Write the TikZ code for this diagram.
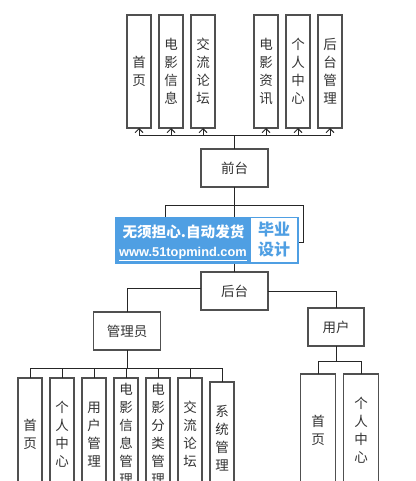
\documentclass[tikz,border=0pt]{standalone}
\usepackage{fontspec}
\setmainfont{Noto Sans CJK SC}
\newfontfamily\urlfont{Liberation Sans}
\usepackage{tikz}
\usetikzlibrary{arrows.meta,positioning}
\definecolor{linegray}{HTML}{505050}
\definecolor{markblue}{HTML}{4F9FE3}

\begin{document}
\begin{tikzpicture}[
    x=1pt,y=-1pt,
    node distance=8pt and 8pt,
    box/.style={draw=linegray,line width=1.3pt,fill=white,inner sep=0pt,outer sep=0pt,align=center,
      text=black!80,font=\fontsize{13.5}{18}\selectfont},
    tallbox/.style={box,minimum width=24pt,minimum height=113pt},
    widebox/.style={box,minimum width=35pt,minimum height=113pt},
    flatbox/.style={box,minimum width=67pt,minimum height=38pt},
    link/.style={draw=black!85,line width=0.9pt},
    >={Straight Barb[length=4pt,width=8pt]}]
  \clip (0,0) rectangle (415,481);
  % top row
  \node[tallbox] (home) at (139,71.5) {首\\页};
  \node[tallbox,right=of home] (film) {电\\影\\信\\息};
  \node[tallbox,right=of film] (forum) {交\\流\\论\\坛};
  \node[tallbox,right=39pt of forum] (news) {电\\影\\资\\讯};
  \node[tallbox,right=of news] (center) {个\\人\\中\\心};
  \node[tallbox,right=of center] (admin) {后\\台\\管\\理};
  \node[flatbox] (front) at (234.5,168) {前台};
  \node[flatbox] (back) at (234.5,291) {后台};
  \node[flatbox] (manager) at (127,331) {管理员};
  \node[flatbox,minimum width=56pt] (user) at (336,327) {用户};
  % manager row
  \node[tallbox] (mhome) at (30,434.5) {首\\页};
  \node[tallbox,right=of mhome] (mcenter) {个\\人\\中\\心};
  \node[tallbox,right=of mcenter] (muser) {用\\户\\管\\理};
  \node[tallbox,right=of muser] (mfilm) {电\\影\\信\\息\\管\\理};
  \node[tallbox,right=of mfilm] (mkind) {电\\影\\分\\类\\管\\理};
  \node[tallbox,right=of mkind] (mforum) {交\\流\\论\\坛};
  \node[tallbox,right=of mforum,yshift=-4pt] (msys) {系\\统\\管\\理};
  % user row
  \node[widebox] (uhome) at (318,430.5) {首\\页};
  \node[widebox,right=of uhome] (ucenter) {个\\人\\中\\心};
  % bus points
  \coordinate (topbus) at (234.5,135);
  \coordinate (midbus) at (234.5,205);
  \coordinate (midleft) at (165,230);
  \coordinate (midright) at (303,242);
  \coordinate (midend) at (285,242);
  \coordinate (manbus) at (127,368);
  \coordinate (userbus) at (336,361);
  \draw[link] (front.north) -- (topbus);
  \foreach \target in {home,film,forum,news,center,admin}
    \draw[link,->] (topbus) -| (\target.south);
  \draw[link] (front.south) -- (back.north);
  \draw[link] (midbus) -| (midleft);
  \draw[link] (midbus) -| (midright) -- (midend);
  \draw[link] (back.west |- 0,288) -| (manager.north);
  \draw[link] (back.east) -| (user.north);
  \draw[link] (manager.south) -- (manbus);
  \foreach \target in {mhome,mcenter,muser,mfilm,mkind,mforum,msys}
    \draw[link] (manbus) -| (\target.north);
  \draw[link] (user.south) -- (userbus);
  \foreach \target in {uhome,ucenter}
    \draw[link] (userbus) -| (\target.north);
  % banner on top
  \node[fill=markblue,minimum width=184pt,minimum height=47pt,inner sep=0pt] (banner) at (207,240.5) {};
  \node[fill=white,minimum width=46pt,minimum height=44pt,inner sep=0pt,text=markblue,align=center,
    font=\bfseries\fontsize{16}{20}\selectfont] (bannertag) at (274,240) {毕业\\设计};
  \node[text=white,inner sep=0pt,font=\bfseries\fontsize{14.6}{16}\selectfont] (bannertop) at (183.5,232) {无须担心.自动发货};
  \node[text=white,inner sep=0pt,font=\urlfont\bfseries\fontsize{12.8}{16}\selectfont] (bannerurl) at (183,254) {\underline{www.51topmind.com}};
\end{tikzpicture}
\end{document}
